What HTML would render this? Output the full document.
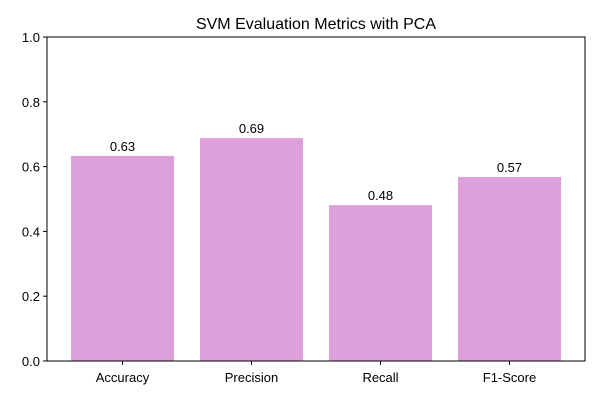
<!DOCTYPE html>
<html><head><meta charset="utf-8"><style>
body{margin:0;background:#fff;}
svg{display:block;font-family:"Liberation Sans","DejaVu Sans",sans-serif;}
</style></head><body>
<svg id="chart" width="600" height="400">
<text x="316" y="29" text-anchor="middle" font-size="16">SVM Evaluation Metrics with PCA</text>
<g id="bars"></g>
<g id="yaxis"></g>
<g id="xaxis"></g>
<rect x="47" y="37" width="538" height="324" fill="none" stroke="#000" stroke-width="1"/>
</svg>
<script>
const categories = ["Accuracy","Precision","Recall","F1-Score"];
const values = [0.633, 0.688, 0.481, 0.568];
const yTicks = [0, 0.2, 0.4, 0.6, 0.8, 1.0];
const yTickLabels = ["0.0","0.2","0.4","0.6","0.8","1.0"];

const NS = "http://www.w3.org/2000/svg";
const L = 47, R = 585, T = 37, B = 361;
const unit = 129;
const xs = i => L + 75.5 + i * unit;
const ys = v => B - v * (B - T);
function mk(tag, attrs, parent){const e=document.createElementNS(NS,tag);for(const k in attrs)e.setAttribute(k,attrs[k]);parent.appendChild(e);return e;}
const gb = document.getElementById("bars"), gy = document.getElementById("yaxis"), gx = document.getElementById("xaxis");
categories.forEach((c,i)=>{
  const w = 103, x = xs(i)-w/2, y = ys(values[i]);
  const r = mk("rect",{x:x,y:y,width:w,height:B-y,fill:"#dda0dd"},gb);
  
  
  const t = mk("text",{x:xs(i),y:y-5,"text-anchor":"middle","font-size":"13"},gb);
  t.textContent = values[i].toFixed(2);
  
  
  const tk = mk("line",{x1:xs(i),x2:xs(i),y1:B,y2:B+4,stroke:"#000"},gx);
  
  
  const lb = mk("text",{x:xs(i),y:B+21,"text-anchor":"middle","font-size":"13"},gx);
  lb.textContent = c;
  
  
});
yTicks.forEach((v,i)=>{
  const tk = mk("line",{x1:L-4,x2:L,y1:ys(v),y2:ys(v),stroke:"#000"},gy);
  
  
  const lb = mk("text",{x:L-7,y:ys(v)+5,"text-anchor":"end","font-size":"13"},gy);
  lb.textContent = yTickLabels[i];
  
  
});
</script>
</body></html>
